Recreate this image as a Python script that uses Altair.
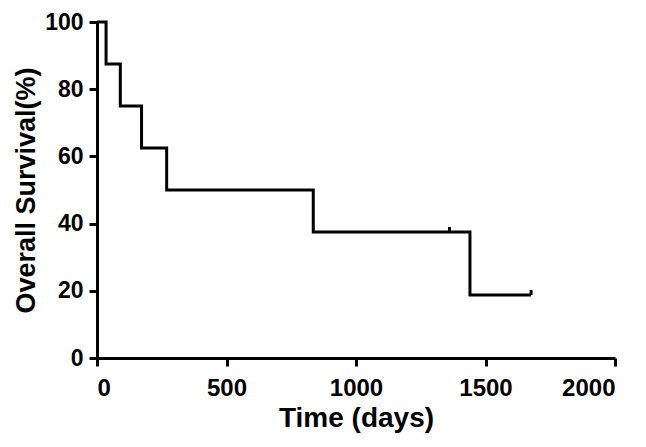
import altair as alt
import pandas as pd

days = [0, 35, 90, 172, 269, 835, 1440, 1676]
survival = [100, 87.5, 75, 62.5, 50, 37.5, 18.75, 18.75]
censor_days = [1361, 1676]
censor_surv = [37.5, 18.75]

df = pd.DataFrame({"t": days, "s": survival})
cf = pd.DataFrame({"t": censor_days, "s": censor_surv})

FONT = "Liberation Sans"
xs = alt.Scale(domain=[0, 2000], nice=False)
ys = alt.Scale(domain=[0, 100], nice=False)

line = alt.Chart(df).mark_line(interpolate="step-after", color="black", strokeWidth=3).encode(
    x=alt.X("t:Q", scale=xs, title="Time (days)",
            axis=alt.Axis(values=[0, 500, 1000, 1500, 2000], format="d")),
    y=alt.Y("s:Q", scale=ys, title="Overall Survival(%)",
            axis=alt.Axis(values=[0, 20, 40, 60, 80, 100], format="d")),
)

ticks = alt.Chart(cf).transform_calculate(s2="datum.s + 1.5").mark_rule(
    color="black", strokeWidth=3
).encode(x="t:Q", y="s:Q", y2="s2:Q")

chart = alt.layer(line, ticks).properties(
    width=518, height=336,
    autosize=alt.AutoSizeParams(type="none"),
    padding={"left": 89, "top": 14, "right": 20, "bottom": 80},
).configure_view(stroke=None).configure_axis(
    grid=False,
    domainColor="black", domainWidth=3,
    tickColor="black", tickWidth=3, tickSize=8,
    labelFont=FONT, labelFontSize=24, labelFontWeight="bold", labelColor="black",
    titleFont=FONT, titleFontSize=28, titleFontWeight="bold", titleColor="black",
).configure_axisX(titlePadding=4, labelPadding=10).configure_axisY(
    titlePadding=4, labelPadding=6, titleFontSize=27, labelFontSize=23)

chart.save("out.html", embed_options={"renderer": "svg", "actions": False})
